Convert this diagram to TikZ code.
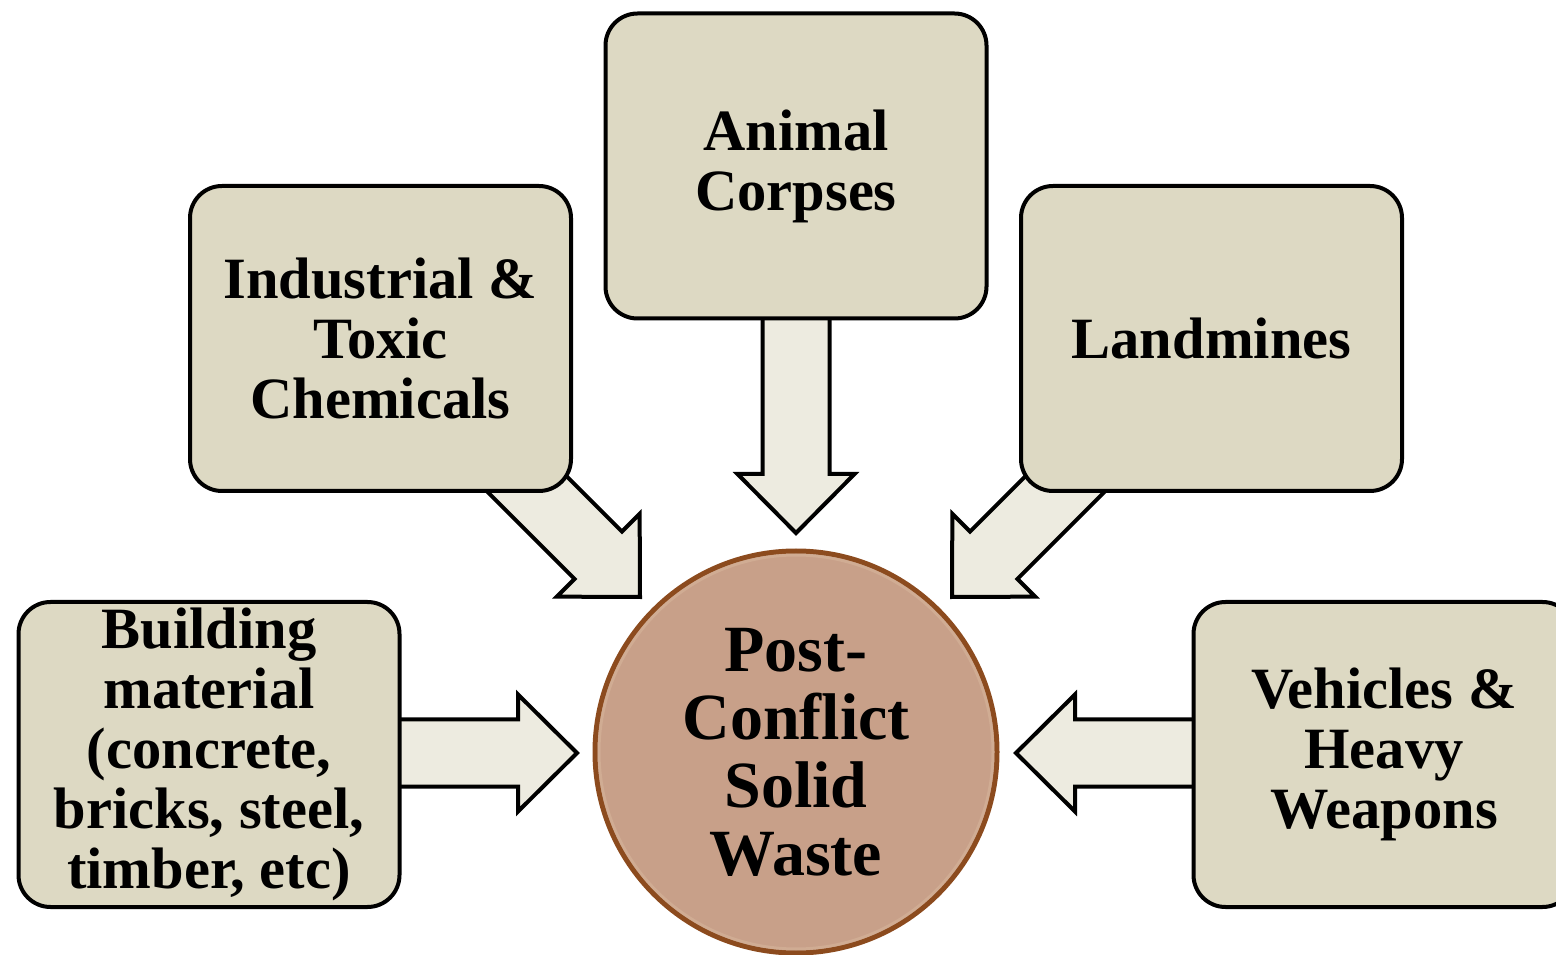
\documentclass[tikz,border=0pt]{standalone}
\usepackage{fontspec}
\setmainfont{Liberation Serif}
\definecolor{boxfill}{RGB}{221,217,195}
\definecolor{arrowfill}{RGB}{237,235,224}
\definecolor{circfill}{RGB}{200,160,137}
\definecolor{circedge}{RGB}{140,75,30}
\definecolor{circlight}{RGB}{214,180,155}
\tikzset{
  srcbox/.style={draw=black, line width=4pt, fill=boxfill, rounded corners=32pt,
    minimum width=381pt, minimum height=305pt, inner sep=0pt, align=center,
    font=\fontsize{58.5}{60}\selectfont\bfseries},
  blockarr/.style={draw=black, line width=4pt, fill=arrowfill, line join=miter},
  hub/.style={circle, fill=circfill, draw=circedge, line width=5pt, minimum size=402pt,
    inner sep=0pt, align=center}
}
\newcommand{\blockarrow}[3]{%
  \begin{scope}[shift={(#1)}, rotate=#2]
    \draw[blockarr] (0,0) -- (-59,58.5) -- (-59,33.5) -- (-#3,33.5) -- (-#3,-33.5)
      -- (-59,-33.5) -- (-59,-58.5) -- cycle;
  \end{scope}}
\begin{document}
\begin{tikzpicture}[x=1pt,y=1pt]
\useasboundingbox (0,0) rectangle (1556,954);
% arrow tips
\coordinate (tipL) at (577,201);
\coordinate (tipR) at (1016,201);
\coordinate (tipD) at (796,421);
\coordinate (tipDL) at (640,357);
\coordinate (tipDR) at (952,357);
% block arrows (drawn below the boxes)
\blockarrow{tipL}{0}{200}
\blockarrow{tipR}{180}{200}
\blockarrow{tipD}{-90}{240}
\blockarrow{tipDL}{-45}{210}
\blockarrow{tipDR}{-135}{210}
% source boxes
\node[srcbox] (build) at (209,199.5) {Building\\material\\(concrete,\\bricks, steel,\\timber, etc)};
\node[srcbox] (indus) at (380.5,615.5) {Industrial \&\\Toxic\\Chemicals};
\node[srcbox] (anim) at (796,788) {Animal\\Corpses};
\node[srcbox] (land) at (1211.5,615.5) {Landmines};
\node[srcbox] (vehic) at (1384,199.5) {Vehicles \&\\Heavy\\Weapons};
% hub
\node[hub] (psw) at (796,202) {};
\draw[circlight, line width=3pt, opacity=0.6] (psw.center) circle (197pt);
\node[align=center, font=\fontsize{66}{68}\selectfont\bfseries] (pswtext) at (psw.center) {Post-\\Conflict\\Solid\\Waste};
\end{tikzpicture}
\end{document}
